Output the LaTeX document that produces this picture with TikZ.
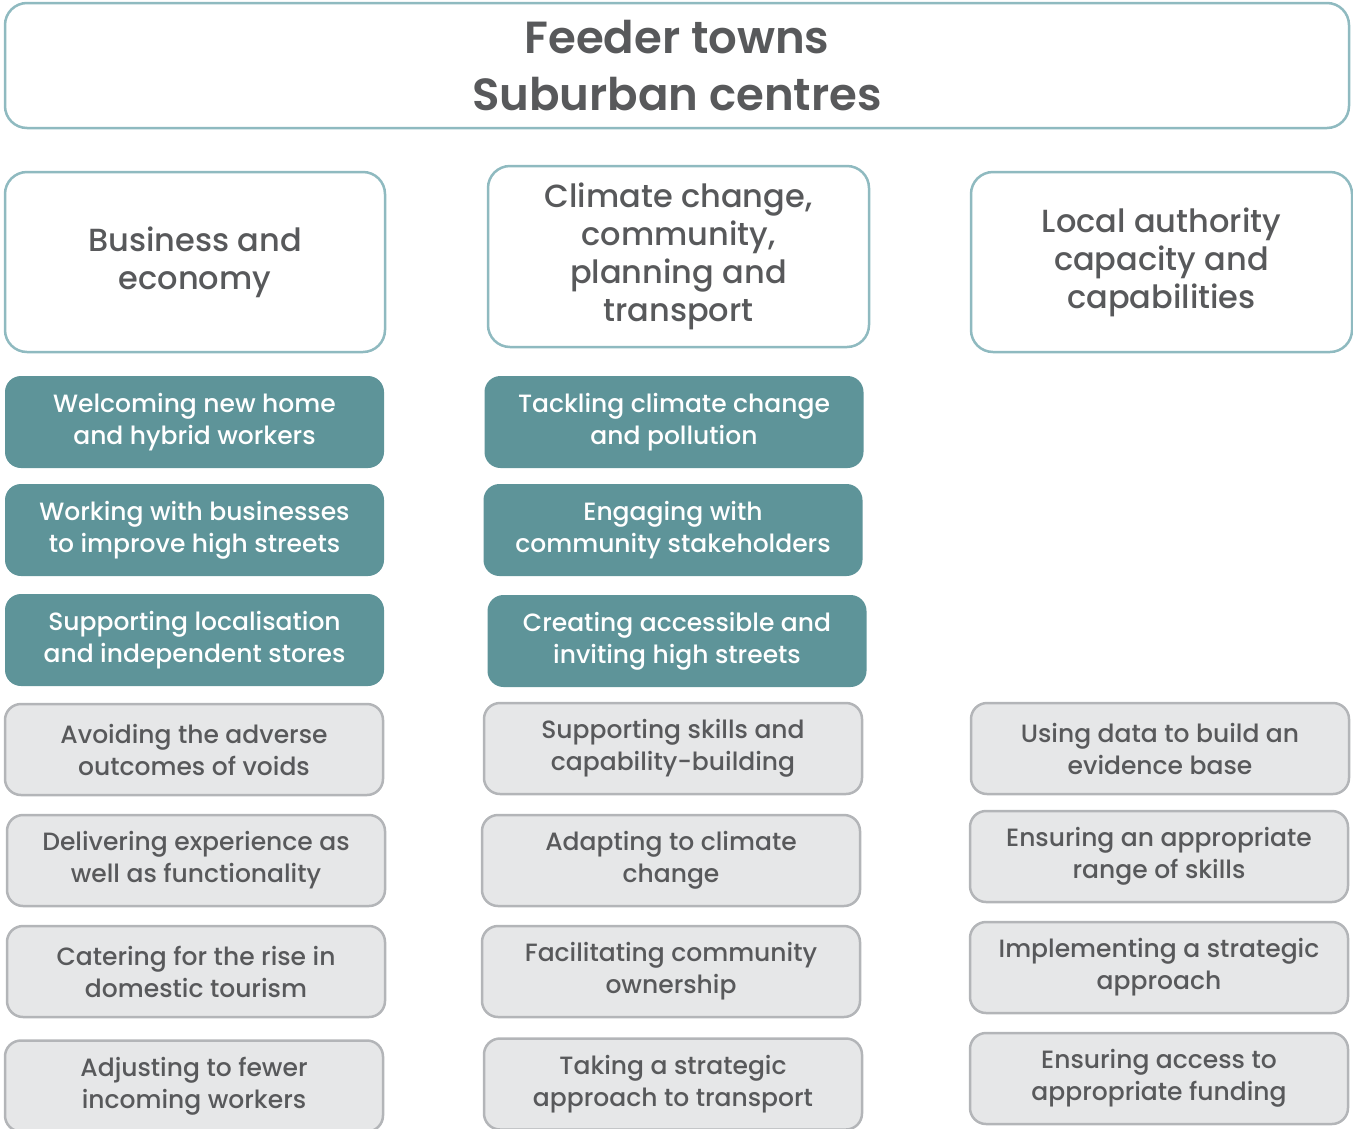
\documentclass[tikz,border=0pt]{standalone}
\usepackage{fontspec}
\setmainfont{Poppins}[UprightFont=* Medium, BoldFont=* SemiBold]
\usetikzlibrary{positioning}

\definecolor{headline}{HTML}{8FBAC0}
\definecolor{tealfill}{HTML}{5E9499}
\definecolor{greyfill}{HTML}{E6E7E8}
\definecolor{greyline}{HTML}{B3B5B8}
\definecolor{textgrey}{HTML}{58595B}

\tikzset{
  headbox/.style={draw=headline, line width=2.5pt, fill=white, rounded corners=22pt,
    align=center, inner sep=0pt, text=textgrey,
    font=\fontsize{32}{38}\selectfont},
  themebox/.style={draw=none, fill=tealfill, rounded corners=16pt,
    align=center, inner sep=0pt, text=white,
    minimum width=379pt, minimum height=92pt,
    font=\fontsize{25}{32}\selectfont},
  issuebox/.style={draw=greyline, line width=2.5pt, fill=greyfill, rounded corners=16pt,
    align=center, inner sep=0pt, text=textgrey,
    minimum width=378pt, minimum height=91pt,
    font=\fontsize{25}{32}\selectfont}
}

\begin{document}
\begin{tikzpicture}[x=1pt, y=-1pt]
  \useasboundingbox (0,0) rectangle (1353,1128);

  % title and column heads
  \node (title) [headbox, minimum width=1344pt, minimum height=125pt,
    font=\fontsize{45}{57}\bfseries] at (677,65.5) {Feeder towns\\Suburban centres};
  \node (business) [headbox, minimum width=380pt, minimum height=180pt] at (195,262)
    {Business and\\economy};
  \node (climate) [headbox, minimum width=381pt, minimum height=181pt] at (678.5,256.5)
    {Climate change,\\community,\\planning and\\transport};
  \node (authority) [headbox, minimum width=381pt, minimum height=180pt] at (1161.5,262)
    {Local authority\\capacity and\\capabilities};

  % teal themes
  \begin{scope}[every node/.style={themebox}]
    \node (welcoming) at (194.5,422) {Welcoming new home\\and hybrid workers};
    \node (working) at (194.5,530) {Working with businesses\\to improve high streets};
    \node (localisation) at (194.5,640) {Supporting localisation\\and independent stores};
    \node (tackling) at (674,422) {Tackling climate change\\and pollution};
    \node (engaging) at (673,530) {Engaging with\\community stakeholders};
    \node (creating) at (677,641) {Creating accessible and\\inviting high streets};
  \end{scope}

  % grey issues
  \begin{scope}[every node/.style={issuebox}]
    \node (voids) at (194,749.5) {Avoiding the adverse\\outcomes of voids};
    \node (experience) at (196,860.5) {Delivering experience as\\well as functionality};
    \node (tourism) at (196,971.5) {Catering for the rise in\\domestic tourism};
    \node (fewer) at (194,1086) {Adjusting to fewer\\incoming workers};
    \node (skills) at (673,748.5) {Supporting skills and\\capability-building};
    \node (adapting) at (671,860.5) {Adapting to climate\\change};
    \node (ownership) at (671,971.5) {Facilitating community\\ownership};
    \node (transport) at (673,1084) {Taking a strategic\\approach to transport};
    \node (data) at (1160,748.5) {Using data to build an\\evidence base};
    \node (range) at (1159,856.5) {Ensuring an appropriate\\range of skills};
    \node (strategic) at (1159,967.5) {Implementing a strategic\\approach};
    \node (funding) at (1159,1078.5) {Ensuring access to\\appropriate funding};
  \end{scope}
\end{tikzpicture}
\end{document}
